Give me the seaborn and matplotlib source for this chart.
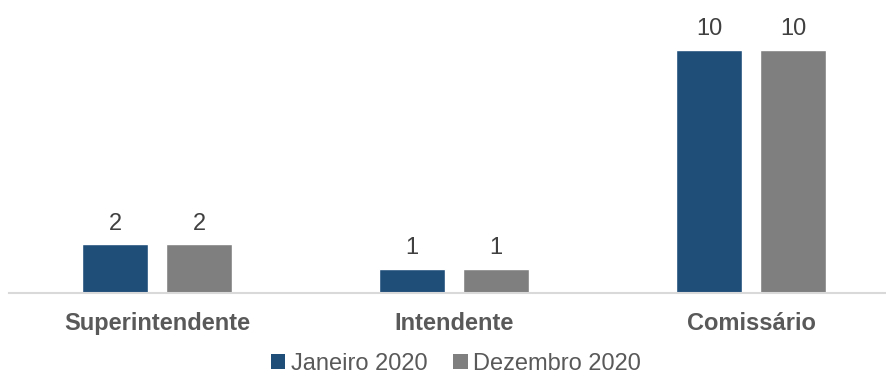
import matplotlib
matplotlib.use("Agg")
import matplotlib.pyplot as plt
import seaborn as sns
import pandas as pd

categories = ["Superintendente", "Intendente", "Comissário"]
series_names = ["Janeiro 2020", "Dezembro 2020"]
janeiro = [2, 1, 10]
dezembro = [2, 1, 10]
colors = ["#1F4E79", "#7F7F7F"]

df = pd.DataFrame({
    "cat": categories * 2,
    "serie": [series_names[0]] * 3 + [series_names[1]] * 3,
    "valor": janeiro + dezembro,
})

sns.set_theme(style="white")
plt.rcParams["font.family"] = ["Liberation Sans", "DejaVu Sans"]

fig = plt.figure(figsize=(8.86, 3.76), dpi=100)
ax = fig.add_axes([8.5 / 886, 83 / 376, 891 / 886, 293 / 376])

sns.barplot(data=df, x="cat", y="valor", hue="serie", palette=colors,
            width=0.566, gap=0.214, ax=ax, legend=False, errorbar=None,
            saturation=1)

for cont in ax.containers:
    ax.bar_label(cont, labels=[f"{v:g}" for v in cont.datavalues],
                 padding=7, fontsize=17, color="#404040")

ax.set_xlim(-0.5, 2.5)
ax.set_ylim(0, 293 / 24.3)
ax.set_xlabel("")
ax.set_ylabel("")
ax.set_yticks([])
ax.tick_params(axis="x", length=0, pad=14)
for lbl in ax.get_xticklabels():
    lbl.set_fontweight("bold")
    lbl.set_fontsize(17)
    lbl.set_color("#595959")
for side in ["top", "right", "left"]:
    ax.spines[side].set_visible(False)
ax.spines["bottom"].set_color("#D9D9D9")
ax.spines["bottom"].set_linewidth(1.5)

from matplotlib.patches import Patch
handles = [Patch(facecolor=c, edgecolor="none") for c in colors]
leg = fig.legend(handles, series_names, loc="center", bbox_to_anchor=(456 / 886, 12 / 376),
                 ncol=2, frameon=False, fontsize=17, handlelength=0.6,
                 handleheight=0.6, handletextpad=0.25, columnspacing=1.1,
                 borderpad=0.1)
for t in leg.get_texts():
    t.set_color("#595959")

fig.savefig("out.png", dpi=100)
